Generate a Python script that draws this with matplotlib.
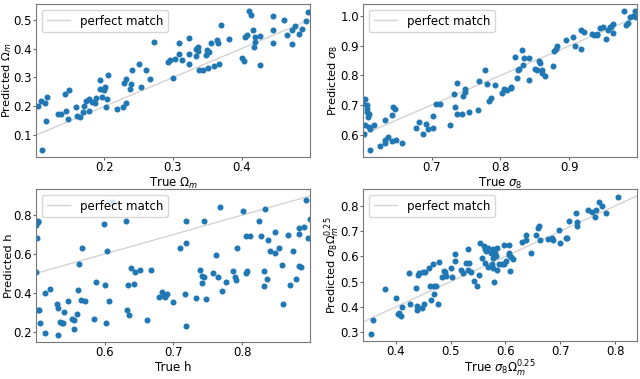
import matplotlib
matplotlib.use("Agg")
import numpy as np
import matplotlib.pyplot as plt
from matplotlib.ticker import MultipleLocator

# --- Omega_m panel ---------------------------------------------------------
om_true = [0.103, 0.108, 0.113, 0.117, 0.115, 0.109, 0.133, 0.137, 0.143, 0.149,
           0.144, 0.147, 0.159, 0.160, 0.164, 0.169, 0.171, 0.173, 0.177, 0.178,
           0.182, 0.187, 0.188, 0.194, 0.194, 0.197, 0.200, 0.201, 0.202, 0.204,
           0.206, 0.219, 0.227, 0.228, 0.232, 0.232, 0.237, 0.239, 0.240, 0.251,
           0.253, 0.261, 0.267, 0.273, 0.292, 0.295, 0.300, 0.303, 0.309, 0.309,
           0.313, 0.323, 0.324, 0.324, 0.333, 0.333, 0.337, 0.337, 0.338, 0.344,
           0.348, 0.349, 0.351, 0.352, 0.356, 0.360, 0.364, 0.366, 0.367, 0.370,
           0.381, 0.400, 0.403, 0.405, 0.408, 0.410, 0.414, 0.417, 0.418, 0.420,
           0.420, 0.426, 0.426, 0.446, 0.446, 0.445, 0.462, 0.466, 0.473, 0.474,
           0.477, 0.484, 0.488, 0.494, 0.496]
om_pred = [0.202, 0.217, 0.212, 0.234, 0.151, 0.049, 0.174, 0.174, 0.242, 0.256,
           0.183, 0.157, 0.197, 0.168, 0.162, 0.182, 0.202, 0.219, 0.225, 0.183,
           0.214, 0.210, 0.228, 0.291, 0.261, 0.231, 0.257, 0.268, 0.197, 0.225,
           0.307, 0.191, 0.197, 0.282, 0.211, 0.293, 0.259, 0.278, 0.325, 0.348,
           0.268, 0.327, 0.295, 0.422, 0.352, 0.359, 0.299, 0.364, 0.420, 0.382,
           0.361, 0.381, 0.435, 0.348, 0.373, 0.398, 0.405, 0.392, 0.327, 0.327,
           0.378, 0.395, 0.333, 0.388, 0.420, 0.339, 0.430, 0.418, 0.348, 0.483,
           0.433, 0.367, 0.356, 0.439, 0.447, 0.530, 0.515, 0.464, 0.407, 0.439,
           0.423, 0.444, 0.342, 0.511, 0.464, 0.418, 0.498, 0.447, 0.464, 0.416,
           0.477, 0.452, 0.469, 0.494, 0.526]

# --- sigma_8 panel ---------------------------------------------------------
s8_true = [0.601, 0.602, 0.603, 0.606, 0.607, 0.608, 0.609, 0.607, 0.604, 0.609,
           0.611, 0.610, 0.616, 0.625, 0.632, 0.632, 0.633, 0.637, 0.642, 0.642,
           0.644, 0.647, 0.649, 0.657, 0.677, 0.682, 0.688, 0.692, 0.695, 0.702,
           0.702, 0.707, 0.712, 0.727, 0.732, 0.734, 0.737, 0.737, 0.744, 0.746,
           0.749, 0.749, 0.754, 0.768, 0.769, 0.778, 0.780, 0.783, 0.786, 0.792,
           0.802, 0.805, 0.809, 0.815, 0.815, 0.821, 0.824, 0.826, 0.827, 0.832,
           0.833, 0.834, 0.841, 0.841, 0.850, 0.853, 0.856, 0.858, 0.860, 0.861,
           0.865, 0.877, 0.878, 0.881, 0.882, 0.896, 0.906, 0.909, 0.917, 0.917,
           0.922, 0.933, 0.936, 0.940, 0.941, 0.945, 0.949, 0.954, 0.956, 0.959,
           0.961, 0.963, 0.964, 0.979, 0.983, 0.985, 0.989, 0.993, 0.995, 0.997]
s8_pred = [0.703, 0.603, 0.720, 0.700, 0.678, 0.660, 0.670, 0.686, 0.631, 0.626,
           0.620, 0.548, 0.631, 0.561, 0.648, 0.581, 0.573, 0.592, 0.578, 0.667,
           0.692, 0.687, 0.581, 0.573, 0.622, 0.644, 0.603, 0.637, 0.618, 0.623,
           0.664, 0.703, 0.702, 0.631, 0.737, 0.692, 0.776, 0.670, 0.670, 0.731,
           0.753, 0.744, 0.676, 0.684, 0.783, 0.817, 0.772, 0.714, 0.723, 0.767,
           0.742, 0.753, 0.750, 0.756, 0.762, 0.864, 0.792, 0.817, 0.822, 0.887,
           0.837, 0.859, 0.859, 0.784, 0.822, 0.818, 0.848, 0.842, 0.817, 0.807,
           0.798, 0.833, 0.881, 0.889, 0.898, 0.920, 0.931, 0.898, 0.953, 0.890,
           0.946, 0.940, 0.937, 0.937, 0.939, 0.959, 0.964, 0.922, 0.953, 0.964,
           0.964, 0.942, 0.973, 1.018, 0.970, 0.978, 0.998, 1.000, 1.018, 0.998]

# --- h panel ---------------------------------------------------------------
h_true = [0.500, 0.501, 0.502, 0.503, 0.504, 0.503, 0.505, 0.506, 0.513, 0.514,
          0.521, 0.531, 0.532, 0.533, 0.535, 0.538, 0.539, 0.541, 0.547, 0.553,
          0.555, 0.556, 0.560, 0.562, 0.563, 0.566, 0.568, 0.571, 0.585, 0.588,
          0.599, 0.600, 0.602, 0.603, 0.607, 0.611, 0.631, 0.633, 0.634, 0.635,
          0.638, 0.643, 0.645, 0.652, 0.662, 0.667, 0.679, 0.684, 0.686, 0.688,
          0.691, 0.700, 0.709, 0.717, 0.718, 0.719, 0.719, 0.733, 0.738, 0.741,
          0.741, 0.744, 0.745, 0.748, 0.757, 0.762, 0.765, 0.768, 0.771, 0.777,
          0.787, 0.789, 0.791, 0.793, 0.801, 0.805, 0.807, 0.806, 0.812, 0.825,
          0.827, 0.831, 0.832, 0.833, 0.836, 0.838, 0.840, 0.848, 0.848, 0.854,
          0.858, 0.859, 0.866, 0.870, 0.874, 0.878, 0.882, 0.883, 0.883, 0.886,
          0.890, 0.893, 0.896, 0.898]
h_pred = [0.750, 0.508, 0.680, 0.772, 0.767, 0.313, 0.313, 0.243, 0.397, 0.193,
          0.422, 0.343, 0.322, 0.183, 0.252, 0.247, 0.247, 0.300, 0.360, 0.263,
          0.258, 0.213, 0.292, 0.413, 0.547, 0.363, 0.630, 0.360, 0.268, 0.458,
          0.755, 0.438, 0.247, 0.617, 0.358, 0.867, 0.768, 0.310, 0.438, 0.288,
          0.527, 0.447, 0.508, 0.517, 0.258, 0.517, 0.377, 0.402, 0.383, 0.380,
          0.392, 0.352, 0.630, 0.393, 0.772, 0.655, 0.227, 0.372, 0.517, 0.488,
          0.450, 0.483, 0.768, 0.367, 0.500, 0.593, 0.480, 0.843, 0.410, 0.455,
          0.510, 0.480, 0.467, 0.630, 0.822, 0.500, 0.510, 0.693, 0.693, 0.768,
          0.693, 0.510, 0.433, 0.833, 0.472, 0.672, 0.613, 0.713, 0.605, 0.630,
          0.543, 0.343, 0.700, 0.438, 0.613, 0.472, 0.702, 0.733, 0.538, 0.533,
          0.738, 0.877, 0.680, 0.780]

# --- sigma_8 * Omega_m^0.25 panel -------------------------------------------
s8om_true = [0.354, 0.358, 0.380, 0.401, 0.403, 0.406, 0.409, 0.412, 0.424, 0.426,
             0.437, 0.440, 0.438, 0.438, 0.443, 0.447, 0.449, 0.451, 0.454, 0.460,
             0.463, 0.464, 0.467, 0.470, 0.470, 0.473, 0.477, 0.479, 0.485, 0.488,
             0.490, 0.491, 0.501, 0.503, 0.507, 0.507, 0.519, 0.523, 0.528, 0.531,
             0.532, 0.534, 0.537, 0.543, 0.548, 0.552, 0.553, 0.557, 0.560, 0.562,
             0.563, 0.565, 0.568, 0.569, 0.573, 0.575, 0.577, 0.577, 0.578, 0.579,
             0.580, 0.582, 0.584, 0.585, 0.589, 0.594, 0.597, 0.598, 0.601, 0.606,
             0.606, 0.607, 0.609, 0.610, 0.613, 0.630, 0.637, 0.638, 0.647, 0.655,
             0.659, 0.662, 0.663, 0.677, 0.684, 0.687, 0.698, 0.699, 0.710, 0.712,
             0.715, 0.728, 0.730, 0.730, 0.751, 0.757, 0.763, 0.766, 0.771, 0.777,
             0.784, 0.805]
s8om_pred = [0.292, 0.348, 0.472, 0.437, 0.370, 0.374, 0.364, 0.400, 0.534, 0.413,
             0.474, 0.527, 0.404, 0.387, 0.534, 0.396, 0.537, 0.413, 0.537, 0.556,
             0.482, 0.426, 0.570, 0.482, 0.450, 0.482, 0.413, 0.576, 0.517, 0.544,
             0.537, 0.524, 0.553, 0.517, 0.583, 0.609, 0.547, 0.534, 0.573, 0.547,
             0.631, 0.573, 0.537, 0.502, 0.482, 0.527, 0.652, 0.592, 0.641, 0.573,
             0.628, 0.622, 0.635, 0.560, 0.613, 0.570, 0.592, 0.553, 0.628, 0.498,
             0.615, 0.602, 0.547, 0.635, 0.570, 0.570, 0.644, 0.570, 0.583, 0.615,
             0.644, 0.605, 0.544, 0.599, 0.589, 0.657, 0.665, 0.683, 0.613, 0.683,
             0.713, 0.719, 0.667, 0.670, 0.674, 0.667, 0.704, 0.654, 0.674, 0.674,
             0.739, 0.774, 0.735, 0.719, 0.784, 0.778, 0.758, 0.784, 0.817, 0.800,
             0.774, 0.834]

# (true, predicted, x-range of the test set, y tick step, x label, y label)
panels = [
    (om_true, om_pred, (0.1005, 0.4995), 0.1,
     r"True $\Omega_m$", r"Predicted $\Omega_m$"),
    (s8_true, s8_pred, (0.6005, 0.9985), 0.1,
     r"True $\sigma_8$", r"Predicted $\sigma_8$"),
    (h_true, h_pred, (0.5005, 0.8985), 0.2, "True h", "Predicted h"),
    (s8om_true, s8om_pred, (0.34, 0.84), 0.1,
     r"True $\sigma_8\Omega_m^{0.25}$", r"Predicted $\sigma_8\Omega_m^{0.25}$"),
]

# axes boxes in pixels (left, top, right, bottom) on a 640x379 canvas
boxes = [(36, 4, 310, 157), (363, 4, 637, 157),
         (36, 189, 310, 342), (363, 189, 637, 341)]
ylabel_x = [-0.081, -0.083, -0.081, -0.078]
xlabel_pad = [1.5, 1.5, 1.5, 0.5]

W, H = 640, 379
fig = plt.figure(figsize=(W / 100, H / 100), dpi=100)

for (xt, yp, lim, ystep, xl, yl), (l, t, r, b), lx, lp in zip(
        panels, boxes, ylabel_x, xlabel_pad):
    ax = fig.add_axes([l / W, 1 - b / H, (r - l) / W, (b - t) / H])
    ax.plot(lim, lim, color="lightgray", lw=1, label="perfect match", zorder=1)
    ax.scatter(xt, yp, s=11, color="#1f77b4", zorder=2)
    ax.set_xlim(lim)
    ax.xaxis.set_major_locator(MultipleLocator(0.1))
    ax.yaxis.set_major_locator(MultipleLocator(ystep))
    ax.set_xlabel(xl, fontsize=8.5, labelpad=lp)
    ax.set_ylabel(yl, fontsize=8.2)
    ax.yaxis.set_label_coords(lx, 0.5)
    ax.tick_params(labelsize=8.5, length=2, pad=1, color="#666666")
    for sp in ax.spines.values():
        sp.set_color("#777777")
    ax.legend(loc="upper left", fontsize=8.5)

fig.savefig("out.png", dpi=100)
